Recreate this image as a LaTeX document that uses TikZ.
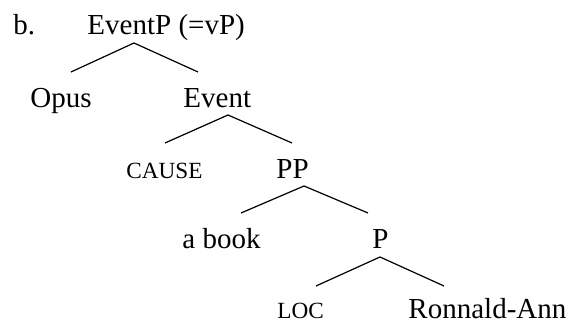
\documentclass[tikz,border=0pt]{standalone}
\usepackage{fontspec}
\setmainfont{Liberation Serif}
\usetikzlibrary{positioning}
\tikzset{
  px/.style     = {x=0.4138pt, y=-0.4138pt},
  cat/.style    = {anchor=base west, inner sep=0pt, font=\fontsize{12}{14}\selectfont},
  feat/.style   = {anchor=base west, inner sep=0pt, font=\fontsize{9.6}{11}\selectfont},
  branch/.style = {line width=0.5pt},
}

\begin{document}
\begin{tikzpicture}[px]
  \useasboundingbox (0,0) rectangle (570,325);
  % labels
  \node[cat]  (ex)     at (13,35)  {b.};
  \node[cat]  (eventp) at (87,35)  {EventP (=vP)};
  \node[cat]  (opus)   at (30,108) {Opus};
  \node[cat]  (event)  at (183,108) {Event};
  \node[feat] (cause)  at (126,179) {CAUSE};
  \node[cat]  (pp)     at (276,179) {PP};
  \node[cat]  (book)   at (182,249) {a book};
  \node[cat]  (p)      at (372,249) {P};
  \node[feat] (loc)    at (277,319) {LOC};
  \node[cat]  (ra)     at (408,319) {Ronnald-Ann};
  % branch points
  \coordinate (eventp-b) at (134,43);
  \coordinate (opus-t)   at (71,72);
  \coordinate (event-t)  at (198,72);
  \coordinate (event-b)  at (228,115);
  \coordinate (cause-t)  at (165,143);
  \coordinate (pp-t)     at (292,143);
  \coordinate (pp-b)     at (304,186);
  \coordinate (book-t)   at (241,213);
  \coordinate (p-t)      at (368,213);
  \coordinate (p-b)      at (380,257);
  \coordinate (loc-t)    at (316,286);
  \coordinate (ra-t)     at (444,286);
  % branches
  \draw[branch] (opus-t) -- (eventp-b) -- (event-t);
  \draw[branch] (cause-t) -- (event-b) -- (pp-t);
  \draw[branch] (book-t) -- (pp-b) -- (p-t);
  \draw[branch] (loc-t) -- (p-b) -- (ra-t);
\end{tikzpicture}
\end{document}
